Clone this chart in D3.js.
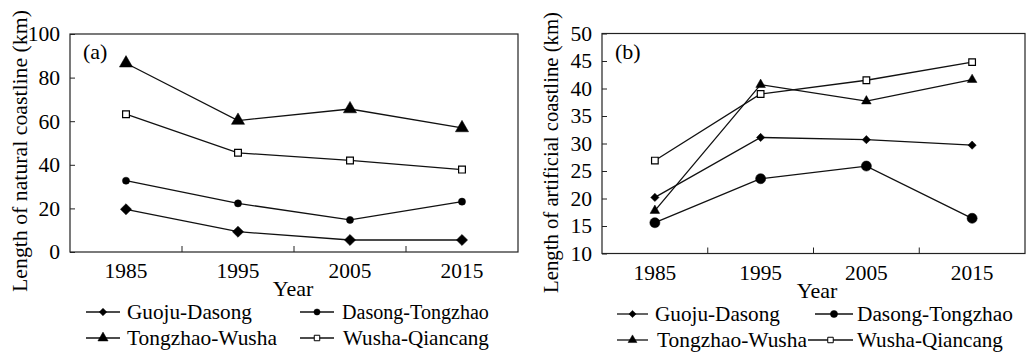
<!DOCTYPE html>
<html>
<head>
<meta charset="utf-8">
<script src="https://cdn.jsdelivr.net/npm/d3@7"></script>
<style>
  body { margin: 0; background: #fff; }
  svg text { font-family: "Liberation Serif", "Times New Roman", serif; fill: #000; }
</style>
</head>
<body>
<div id="chart"></div>
<script>
var years = ['1985', '1995', '2005', '2015']
var seriesNames = ['Guoju-Dasong', 'Dasong-Tongzhao', 'Tongzhao-Wusha', 'Wusha-Qiancang']

// (a) natural coastline, km
var naturalGuoju = [19.6, 9.3, 5.5, 5.5]
var naturalDasong = [32.7, 22.3, 14.7, 23.1]
var naturalTongzhao = [86.6, 60.3, 65.6, 56.9]
var naturalWusha = [63.2, 45.5, 42.0, 37.8]
var yTicksA = [0, 20, 40, 60, 80, 100]

// (b) artificial coastline, km
var artGuoju = [20.2, 31.1, 30.7, 29.7]
var artDasong = [15.6, 23.6, 25.9, 16.4]
var artTongzhao = [17.8, 40.7, 37.7, 41.6]
var artWusha = [26.9, 39.0, 41.5, 44.8]
var yTicksB = [10, 15, 20, 25, 30, 35, 40, 45, 50]

var W = 1027, H = 359
var svg = d3.select('#chart').append('svg').attr('width', W).attr('height', H)

function marker(kind, size) {
  var t = { diamond: d3.symbolSquare, circle: d3.symbolCircle, triangle: d3.symbolTriangle, square: d3.symbolSquare }[kind]
  return d3.symbol().type(t).size(size)()
}

// the original font is set a bit wide, so stretch text horizontally around its anchor
function stretch(sel, k) {
  sel.each(function () {
    var t = d3.select(this)
    var x = +t.attr('x') || 0
    t.attr('x', x / k).attr('transform', (t.attr('transform') || '') + ' scale(' + k + ',1)')
  })
}
function fitTo(sel, w) {
  sel.each(function () {
    stretch(d3.select(this), w / this.getComputedTextLength())
  })
}

function drawPanel(opt) {
  var g = svg.append('g')
  var x = d3.scaleBand().domain(years).range([opt.left, opt.right]).padding(0)
  var y = d3.scaleLinear().domain(opt.domain).range([opt.bottom, opt.top])

  // frame
  g.append('rect').attr('x', opt.left).attr('y', opt.top)
    .attr('width', opt.right - opt.left).attr('height', opt.bottom - opt.top)
    .attr('fill', 'none').attr('stroke', '#222').attr('stroke-width', 1.2)

  // y axis
  var yAxis = g.append('g').attr('transform', 'translate(' + opt.left + ',0)')
    .call(d3.axisLeft(y).tickValues(opt.ticks).tickSize(-5).tickPadding(10))
  yAxis.select('.domain').remove()
  yAxis.selectAll('line').attr('stroke', '#222')
  yAxis.selectAll('text').style('font-size', '20px').attr('dy', '0.34em').call(stretch, 1.08)

  // x axis: ticks at band boundaries, labels at centers
  var xAxis = g.append('g').attr('transform', 'translate(0,' + opt.bottom + ')')
    .call(d3.axisBottom(x).tickSize(0).tickPadding(12))
  xAxis.select('.domain').remove()
  xAxis.selectAll('text').style('font-size', '20px').attr('dy', '0.71em').call(stretch, 1.07)
  g.selectAll('.xt').data(years.slice(1)).enter().append('line')
    .attr('x1', function (d) { return x(d) }).attr('x2', function (d) { return x(d) })
    .attr('y1', opt.bottom).attr('y2', opt.bottom - 6).attr('stroke', '#222')

  g.append('text').attr('transform', 'translate(' + opt.yearX + ',' + (opt.bottom + 44) + ')')
    .attr('text-anchor', 'middle').style('font-size', '20px').text('Year').call(stretch, 1.1)

  g.append('text').attr('transform', 'translate(' + opt.ylab[0] + ',' + opt.ylab[1] + ') rotate(-90)')
    .attr('text-anchor', 'middle').style('font-size', '20px').text(opt.ylabel).call(fitTo, opt.ylab[2])

  g.append('text').attr('transform', 'translate(' + (opt.left + 13) + ',' + (opt.top + 25) + ')')
    .style('font-size', '20px').text(opt.tag).call(stretch, 1.1)

  var line = d3.line().x(function (d, i) { return x(years[i]) + x.bandwidth() / 2 }).y(function (d) { return y(d) })

  opt.series.forEach(function (s) {
    g.append('path').datum(s.values).attr('d', line).attr('fill', 'none').attr('stroke', '#111').attr('stroke-width', 1.3)
  })
  opt.series.forEach(function (s) {
    g.selectAll(null).data(s.values).enter().append('path')
      .attr('d', marker(s.kind, s.size))
      .attr('transform', function (d, i) {
        return 'translate(' + (x(years[i]) + x.bandwidth() / 2) + ',' + y(d) + ')' + (s.kind == 'diamond' ? ' rotate(45)' : '')
      })
      .attr('fill', s.kind == 'square' ? '#fff' : '#000')
      .attr('stroke', '#000').attr('stroke-width', s.kind == 'square' ? 1.2 : 0.5)
  })

  // legend: [x, y, line length, text start, text width]
  opt.series.forEach(function (s, i) {
    var p = opt.legend[i]
    var lg = g.append('g').attr('transform', 'translate(' + p[0] + ',' + p[1] + ')')
    lg.append('line').attr('x1', 0).attr('x2', p[2]).attr('y1', 0).attr('y2', 0).attr('stroke', '#111').attr('stroke-width', 1.3)
    lg.append('path').attr('d', marker(s.kind, s.lsize))
      .attr('transform', 'translate(' + (p[2] / 2) + ',0)' + (s.kind == 'diamond' ? ' rotate(45)' : ''))
      .attr('fill', s.kind == 'square' ? '#fff' : '#000').attr('stroke', '#000').attr('stroke-width', s.kind == 'square' ? 1 : 0.5)
    lg.append('text').attr('transform', 'translate(' + (p[3] - p[0]) + ',0)').attr('dy', '0.35em')
      .style('font-size', '20px').text(seriesNames[i]).call(fitTo, p[4])
  })
}

drawPanel({
  left: 70, right: 518, top: 34, bottom: 252, domain: [0, 100], ticks: yTicksA,
  ylab: [27, 151, 282], yearX: 293, ylabel: 'Length of natural coastline (km)', tag: '(a)',
  series: [
    { values: naturalGuoju, kind: 'diamond', size: 62, lsize: 28 },
    { values: naturalDasong, kind: 'circle', size: 40, lsize: 30 },
    { values: naturalTongzhao, kind: 'triangle', size: 75, lsize: 45 },
    { values: naturalWusha, kind: 'square', size: 46, lsize: 30 }
  ],
  legend: [[86, 312, 34, 127, 125], [300, 312, 34, 342, 147], [86, 338, 34, 127, 150], [300, 338, 34, 343, 146]]
})

drawPanel({
  left: 602, right: 1025, top: 33.5, bottom: 253.5, domain: [10, 50], ticks: yTicksB,
  ylab: [558, 152.5, 281], yearX: 817, ylabel: 'Length of artificial coastline (km)', tag: '(b)',
  series: [
    { values: artGuoju, kind: 'diamond', size: 34, lsize: 26 },
    { values: artDasong, kind: 'circle', size: 80, lsize: 40 },
    { values: artTongzhao, kind: 'triangle', size: 40, lsize: 34 },
    { values: artWusha, kind: 'square', size: 44, lsize: 30 }
  ],
  legend: [[617, 314, 31, 655, 125], [815, 314, 38, 857, 156], [617, 340, 31, 657, 150], [808, 340, 45, 857, 146]]
})
</script>
</body>
</html>
